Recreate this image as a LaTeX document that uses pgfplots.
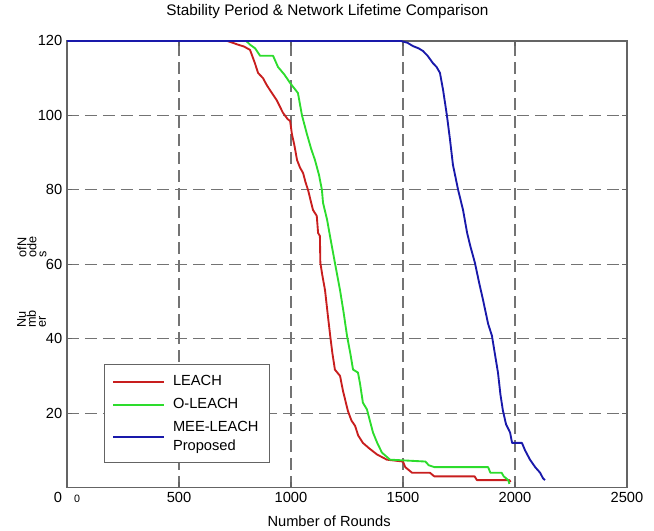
\documentclass[border=0pt]{standalone}
\usepackage{pgfplots}
\pgfplotsset{compat=1.18}
\usepackage{fontspec}
\setmainfont{Liberation Sans}
\definecolor{cRed}{RGB}{200,30,30}
\definecolor{cGreen}{RGB}{45,220,45}
\definecolor{cBlue}{RGB}{25,25,170}
\definecolor{cGrid}{RGB}{115,115,115}
\definecolor{cAxis}{RGB}{100,100,100}
\pgfplotsset{
  legend image code/.code={\draw[#1, line width=1.4pt] (0pt,0pt) -- (38pt,0pt);},
}
\begin{document}
\begin{tikzpicture}
\begin{axis}[
  name=ax,
  scale only axis,
  width=420pt, height=335pt,
  xmin=0, xmax=2500, ymin=0, ymax=120,
  xtick={0,500,1000,1500,2000,2500},
  xticklabels={0\hspace{9pt}{\footnotesize 0},500,1000,1500,2000,2500},
  ytick={20,40,60,80,100,120},
  /pgf/number format/assume math mode=true,
  tick label style={font=\fontsize{11}{13}\selectfont},
  axis line style={cAxis, line width=0.9pt},
  tick style={cAxis, line width=0.8pt},
  major tick length=4pt,
  grid=major,
  major grid style={cGrid, line width=0.9pt, dash pattern=on 9pt off 4.5pt},
  title={Stability Period \& Network Lifetime Comparison},
  title style={font=\fontsize{11.5}{13}\selectfont, at={(axis description cs:0.465,1)}, anchor=center, yshift=16pt},
  xlabel={Number of Rounds},
  xlabel style={font=\fontsize{11}{13}\selectfont, at={(axis description cs:0.468,0)}, anchor=center, yshift=-25pt},
  legend style={at={(rel axis cs:0.066,0.054)}, anchor=south west, draw=cAxis, line width=0.8pt,
    font=\fontsize{11}{14}\selectfont, cells={anchor=west, align=left}, row sep=4pt,
    inner xsep=6pt, inner ysep=6pt, /tikz/column 1/.style={column sep=4pt}},
  every axis plot/.append style={line width=1.4pt, line join=round},
]
\addplot[cRed] coordinates {
(0,120)(715,120)(740,119.5)(763,119)(790,118.5)(817,117.6)(839,114)(853,111.4)(875,110)(893,108)
(915,106)(937,104)(964,100.7)(985,99)(996,98.5)(1004,95)(1015,92)(1027,88)(1040,86)(1054,84.5)
(1065,82)(1076,80)(1098,74.6)(1115,73)(1121,68.4)(1129,67.6)(1131,60.4)(1140,57)(1152,53)(1165,46)
(1175,40.8)(1185,36)(1196,31.7)(1219,30)(1232,26)(1254,20.6)(1270,18)(1286,16.6)(1300,14)(1321,12)
(1350,10.5)(1384,8.9)(1428,7.5)(1500,7)(1510,5.5)(1540,4)(1620,4)(1640,3)(1820,3)(1830,2)(1975,2)(1980,1.5)
};
\addlegendentry{LEACH}
\addplot[cGreen] coordinates {
(0,120)(800,120)(817,119)(840,118)(862,116)(920,116)(942,113)(970,111)(996,108.7)(1031,106)
(1049,100)(1071,95)(1090,91)(1107,88)(1125,84)(1138,80)(1143,76.5)(1161,72)(1174,67.6)(1196,60.4)
(1219,53)(1235,47)(1250,40.8)(1265,36)(1277,31.7)(1299,30.9)(1308,28)(1321,22.8)(1339,21)(1366,14.8)
(1385,12)(1406,9.4)(1442,7.5)(1600,7)(1615,6)(1640,5.5)(1880,5.5)(1890,4)(1940,4)(1950,3)(1970,2)(1975,1)
};
\addlegendentry{O-LEACH}
\addplot[cBlue] coordinates {
(0,120)(1490,120)(1520,119.5)(1545,118.6)(1570,118)(1589,117.3)(1610,116)(1634,114)(1650,113)(1665,111.4)
(1679,106.8)(1696,100)(1710,93.4)(1723,86.7)(1746,80)(1768,74.6)(1786,68.5)(1800,65)(1821,60.4)(1840,55)
(1857,50.5)(1880,44)(1897,40.8)(1910,36)(1924,30.9)(1935,25)(1946,20.7)(1960,17)(1978,14.8)(1987,12)
(2031,12)(2045,10)(2067,7.5)(2090,5.5)(2112,4)(2125,2.5)(2134,2)
};
\addlegendentry{MEE-LEACH\\Proposed}
\end{axis}
\node[rotate=90, align=left, font=\fontsize{9.5}{7.5}\selectfont, inner sep=0pt]
  at ([xshift=-26.6pt, yshift=126.6pt]ax.south west) {Nu\\mb\\er};
\node[rotate=90, align=left, font=\fontsize{9.5}{7.5}\selectfont, inner sep=0pt]
  at ([xshift=-26.3pt, yshift=180.5pt]ax.south west) {ofN\\ode\\s};
\path ([shift={(-50.25pt,-30.75pt)}]ax.south west) rectangle ([shift={(20.25pt,27.75pt)}]ax.north east);
\end{tikzpicture}
\end{document}
